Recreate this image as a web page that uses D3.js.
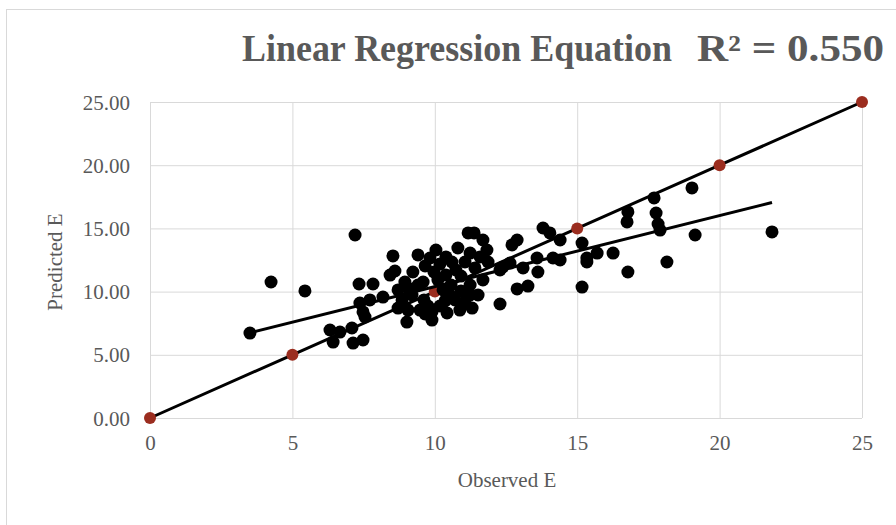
<!DOCTYPE html>
<html>
<head>
<meta charset="utf-8">
<style>
  body { margin: 0; background: #fff; }
  .grid line { stroke: #d9d9d9; stroke-width: 1; }
  .tick text { font-family: "Liberation Serif", "Times New Roman", serif; fill: #595959; }
</style>
</head>
<body>
<script src="https://cdn.jsdelivr.net/npm/d3@7"></script>
<script>

// observed vs predicted E
var observedE = [3.51, 4.25, 5.44, 7.20, 6.32, 6.67, 7.09, 6.43, 7.13, 7.48,
  7.34, 7.83, 7.37, 7.72, 7.55, 8.18, 8.53, 8.43, 8.60, 9.02,
  9.90, 10.43, 11.17, 11.38, 11.69, 8.71, 8.85, 9.06, 8.71, 9.20,
  9.41, 9.62, 9.48, 8.95, 9.23, 9.66, 9.83, 10.18, 10.39, 10.60,
  10.74, 10.92, 10.39, 10.11, 10.57, 10.92, 10.71, 10.36, 10.18, 9.76,
  9.59, 11.24, 11.59, 11.83, 11.87, 11.69, 11.41, 11.24, 11.52, 11.06,
  10.88, 11.31, 12.29, 12.39, 12.29, 12.64, 12.89, 12.71, 13.10, 13.59,
  13.62, 12.89, 13.27, 13.80, 14.04, 14.40, 14.15, 14.40, 15.17, 15.34,
  15.70, 15.34, 16.26, 15.17, 16.78, 16.78, 16.75, 17.70, 17.77, 17.84,
  17.91, 19.03, 19.14, 18.15, 21.84, 9.41, 10.04, 10.81, 11.06, 9.97,
  9.06, 9.66, 10.53, 11.24, 10.29, 9.90, 7.48];
var predictedE = [6.72, 10.76, 10.05, 14.48, 6.96, 6.80, 7.12, 6.01, 5.93, 6.17,
  10.60, 10.60, 9.10, 9.34, 7.99, 9.57, 12.82, 11.31, 11.63, 7.59,
  7.75, 8.31, 14.64, 14.64, 14.08, 10.13, 9.34, 8.54, 8.70, 9.73,
  10.52, 9.34, 8.54, 10.76, 11.55, 12.03, 12.66, 12.18, 12.74, 12.34,
  11.71, 11.23, 11.31, 10.92, 10.52, 10.05, 9.34, 9.26, 8.86, 8.86,
  10.76, 13.05, 12.74, 13.29, 12.34, 10.92, 11.87, 10.52, 9.73, 9.18,
  8.54, 8.70, 11.71, 11.95, 9.02, 12.26, 14.08, 13.69, 11.87, 12.66,
  11.55, 10.21, 10.44, 15.03, 14.64, 14.08, 12.66, 12.50, 13.84, 12.66,
  13.05, 12.34, 13.05, 10.36, 11.55, 16.30, 15.51, 17.41, 16.22, 15.35,
  14.87, 18.20, 14.48, 12.34, 14.72, 12.90, 13.29, 13.45, 12.34, 11.55,
  10.28, 8.23, 9.73, 9.73, 10.13, 8.39, 8.39];

// 1:1 reference line points
var lineX = [0, 5, 10, 15, 20, 25];
var lineY = [0, 5, 10, 15, 20, 25];

// excel linear trendline end points
var trendX = [3.51, 21.84];
var trendY = [6.74, 17.05];

var xTicks = [0, 5, 10, 15, 20, 25];
var yTicks = [0, 5, 10, 15, 20, 25];

var title = "Linear Regression Equation";
var rSquared = "R\u00B2 = 0.550";

var margin = {top: 102, right: 34, bottom: 107, left: 150},
    width = 896 - margin.left - margin.right,
    height = 525 - margin.top - margin.bottom;

var x = d3.scaleLinear().domain([0, 25]).range([0, width]);
var y = d3.scaleLinear().domain([0, 25]).range([height, 0]);

var root = d3.select("body").append("svg")
    .attr("width", 896)
    .attr("height", 525);

// chart frame
root.append("rect")
    .attr("x", 6.5).attr("y", 9.5)
    .attr("width", 900).attr("height", 540)
    .attr("fill", "none")
    .attr("stroke", "#d9d9d9");

var svg = root.append("g")
    .attr("transform", "translate(" + margin.left + "," + margin.top + ")");

// gridlines
svg.append("g")
    .attr("class", "grid")
    .call(d3.axisLeft(y).tickValues(yTicks).tickSize(-width).tickFormat(""))
    .call(function(g) { g.select(".domain").remove(); });

svg.append("g")
    .attr("class", "grid")
    .attr("transform", "translate(0," + height + ")")
    .call(d3.axisBottom(x).tickValues(xTicks).tickSize(-height).tickFormat(""))
    .call(function(g) { g.select(".domain").remove(); });

// axes labels
var yAxis = svg.append("g")
    .call(d3.axisLeft(y).tickValues(yTicks).tickSize(0).tickPadding(20).tickFormat(d3.format(".2f")));
yAxis.select(".domain").remove();
yAxis.selectAll("text").style("font-size", "21px").attr("dy", "0.34em");

var xAxis = svg.append("g")
    .attr("transform", "translate(0," + height + ")")
    .call(d3.axisBottom(x).tickValues(xTicks).tickSize(0).tickPadding(24).tickFormat(d3.format("d")));
xAxis.select(".domain").remove();
xAxis.selectAll("text").style("font-size", "21px").attr("dy", "0.4em");

// 1:1 line and red points
var line = d3.line()
    .x(function(d, i) { return x(lineX[i]); })
    .y(function(d, i) { return y(lineY[i]); });

svg.append("path")
    .datum(lineX)
    .attr("d", line)
    .attr("fill", "none")
    .attr("stroke", "#000")
    .attr("stroke-width", 3);

svg.selectAll(".ref")
    .data(lineX)
  .enter().append("circle")
    .attr("class", "ref")
    .attr("r", 6)
    .attr("cx", function(d, i) { return x(lineX[i]); })
    .attr("cy", function(d, i) { return y(lineY[i]); })
    .style("fill", "#9b2d1f");

// scatter
svg.selectAll(".dot")
    .data(observedE)
  .enter().append("circle")
    .attr("class", "dot")
    .attr("r", 6.5)
    .attr("cx", function(d) { return x(d); })
    .attr("cy", function(d, i) { return y(predictedE[i]); })
    .style("fill", "#000");

// trendline
svg.append("path")
    .datum(trendX)
    .attr("d", d3.line()
      .x(function(d, i) { return x(trendX[i]); })
      .y(function(d, i) { return y(trendY[i]); }))
    .attr("fill", "none")
    .attr("stroke", "#000")
    .attr("stroke-width", 3);

// titles
root.append("text")
    .attr("x", 242).attr("y", 61)
    .attr("textLength", 430)
    .attr("lengthAdjust", "spacingAndGlyphs")
    .style("font-family", "Liberation Serif, Times New Roman, serif")
    .style("font-weight", "bold")
    .style("font-size", "38px")
    .style("fill", "#595959")
    .text(title);

root.append("text")
    .attr("x", 697).attr("y", 61)
    .attr("textLength", 187)
    .attr("lengthAdjust", "spacingAndGlyphs")
    .style("font-family", "Liberation Serif, Times New Roman, serif")
    .style("font-weight", "bold")
    .style("font-size", "38px")
    .style("fill", "#595959")
    .text(rSquared);

root.append("text")
    .attr("text-anchor", "middle")
    .attr("x", 507).attr("y", 487)
    .style("font-family", "Liberation Serif, Times New Roman, serif")
    .style("font-size", "21px")
    .style("fill", "#595959")
    .text("Observed E");

root.append("text")
    .attr("text-anchor", "middle")
    .attr("transform", "translate(62,262)rotate(-90)")
    .style("font-family", "Liberation Serif, Times New Roman, serif")
    .style("font-size", "21px")
    .style("fill", "#595959")
    .text("Predicted E");

</script>
</body>
</html>
